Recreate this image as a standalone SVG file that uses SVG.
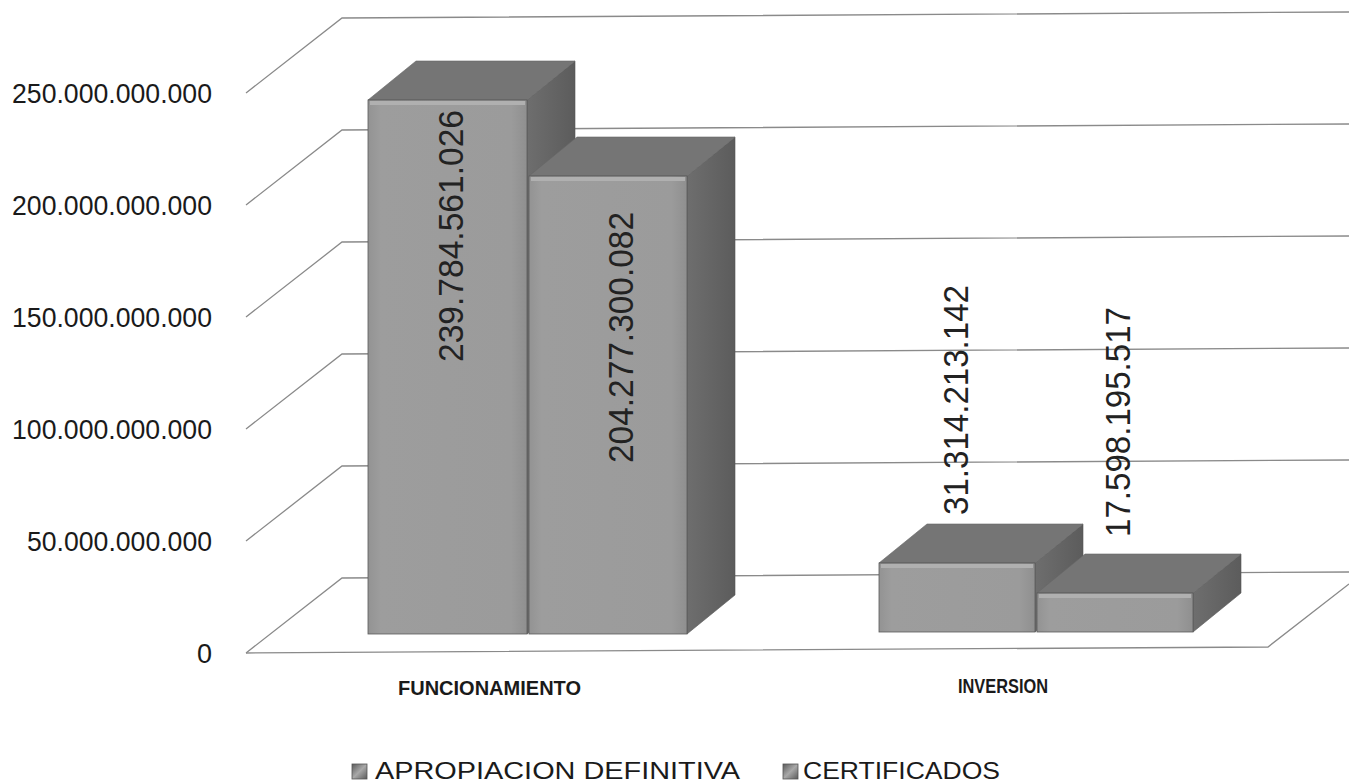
<svg xmlns="http://www.w3.org/2000/svg" width="1349" height="784" viewBox="0 0 1349 784">
<defs>
<style>
.grid{stroke:#8a8a8a;stroke-width:1.3;fill:none}
.ax{font-family:"Liberation Sans",Arial,sans-serif;font-size:27px;fill:#1a1a1a}
.cat{font-family:"Liberation Sans",Arial,sans-serif;font-size:21px;font-weight:bold;fill:#1a1a1a}
.val{font-family:"Liberation Sans",Arial,sans-serif;font-size:35px;fill:#222}
.leg{font-family:"Liberation Sans",Arial,sans-serif;font-size:23px;fill:#1a1a1a}
.front{fill:url(#gFront);stroke:#5a5a5a;stroke-width:0.8}
.top{fill:#757575;stroke:#666;stroke-width:0.6}
.side{fill:url(#gSide);stroke:#555;stroke-width:0.6}
.hl{fill:#b0b0b0}
</style>
<linearGradient id="gFront" x1="0" y1="0" x2="1" y2="0">
<stop offset="0" stop-color="#939393"/>
<stop offset="0.08" stop-color="#9d9d9d"/>
<stop offset="0.9" stop-color="#9b9b9b"/>
<stop offset="1" stop-color="#8f8f8f"/>
</linearGradient>
<linearGradient id="gSide" x1="0" y1="0" x2="1" y2="0">
<stop offset="0" stop-color="#6e6e6e"/>
<stop offset="1" stop-color="#5c5c5c"/>
</linearGradient>
<linearGradient id="gLeg" x1="0" y1="0" x2="1" y2="1">
<stop offset="0" stop-color="#5a5a5a"/>
<stop offset="0.5" stop-color="#a8a8a8"/>
<stop offset="1" stop-color="#5a5a5a"/>
</linearGradient>
</defs>
<rect x="0" y="0" width="1349" height="784" fill="#ffffff"/>

<g id="gridlines">
<path class="grid" d="M246,93 L342,18 L1349,12"/>
<path class="grid" d="M246,205 L342,130 L1349,124"/>
<path class="grid" d="M246,317 L342,242 L1349,236"/>
<path class="grid" d="M246,429 L342,354 L1349,348"/>
<path class="grid" d="M246,541 L342,466 L1349,460"/>
<path class="grid" d="M246,653 L342,578 L1349,572"/>
<path class="grid" d="M246,653 L1268,647 L1349,584"/>
</g>

<g id="axis-labels">
<text class="ax" x="212" y="103" text-anchor="end" textLength="200" lengthAdjust="spacingAndGlyphs">250.000.000.000</text>
<text class="ax" x="212" y="215" text-anchor="end" textLength="200" lengthAdjust="spacingAndGlyphs">200.000.000.000</text>
<text class="ax" x="212" y="327" text-anchor="end" textLength="200" lengthAdjust="spacingAndGlyphs">150.000.000.000</text>
<text class="ax" x="212" y="439" text-anchor="end" textLength="200" lengthAdjust="spacingAndGlyphs">100.000.000.000</text>
<text class="ax" x="212" y="551" text-anchor="end" textLength="185" lengthAdjust="spacingAndGlyphs">50.000.000.000</text>
<text class="ax" x="212" y="663" text-anchor="end">0</text>
</g>

<g id="bar-func-apropiacion">
<polygon class="side" points="527,100 575,61 575,595 527,634"/>
<polygon class="top" points="368,100 527,100 575,61 416,61"/>
<rect class="front" x="368" y="100" width="159" height="534"/>
<rect class="hl" x="370" y="101" width="155" height="4"/>
</g>

<g id="bar-func-certificados">
<polygon class="side" points="687,176 735,137 735,595 687,634"/>
<polygon class="top" points="529,176 687,176 735,137 577,137"/>
<rect class="front" x="529" y="176" width="158" height="458"/>
<rect class="hl" x="531" y="177" width="154" height="4"/>
</g>

<g id="bar-inv-apropiacion">
<polygon class="side" points="1035,563 1083,524 1083,593 1035,632"/>
<polygon class="top" points="879,563 1035,563 1083,524 927,524"/>
<rect class="front" x="879" y="563" width="156" height="69"/>
<rect class="hl" x="881" y="564" width="152" height="4"/>
</g>

<g id="bar-inv-certificados">
<polygon class="side" points="1193,593 1241,554 1241,593 1193,632"/>
<polygon class="top" points="1037,593 1193,593 1241,554 1085,554"/>
<rect class="front" x="1037" y="593" width="156" height="39"/>
<rect class="hl" x="1039" y="594" width="152" height="4"/>
</g>

<g id="value-labels">
<text class="val" transform="translate(463,362) rotate(-90)" textLength="252" lengthAdjust="spacingAndGlyphs">239.784.561.026</text>
<text class="val" transform="translate(633,463) rotate(-90)" textLength="251" lengthAdjust="spacingAndGlyphs">204.277.300.082</text>
<text class="val" transform="translate(968,515) rotate(-90)" textLength="230" lengthAdjust="spacingAndGlyphs">31.314.213.142</text>
<text class="val" transform="translate(1130,537) rotate(-90)" textLength="230" lengthAdjust="spacingAndGlyphs">17.598.195.517</text>
</g>

<g id="category-labels">
<text class="cat" x="398" y="695" textLength="183" lengthAdjust="spacingAndGlyphs">FUNCIONAMIENTO</text>
<text class="cat" x="958" y="693" textLength="90" lengthAdjust="spacingAndGlyphs">INVERSION</text>
</g>

<g id="legend">
<rect x="352" y="764" width="15" height="15" fill="url(#gLeg)" stroke="#555" stroke-width="0.8"/>
<text class="leg" x="375" y="779" textLength="365" lengthAdjust="spacingAndGlyphs">APROPIACION DEFINITIVA</text>
<rect x="783" y="764" width="15" height="15" fill="url(#gLeg)" stroke="#555" stroke-width="0.8"/>
<text class="leg" x="803" y="779" textLength="197" lengthAdjust="spacingAndGlyphs">CERTIFICADOS</text>
</g>
</svg>
